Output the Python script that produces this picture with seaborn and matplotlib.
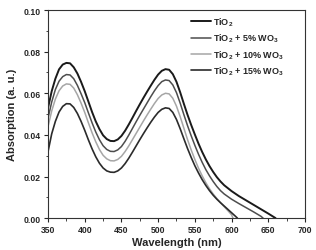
import pandas as pd
import seaborn as sns
import matplotlib.pyplot as plt
from matplotlib.ticker import MultipleLocator

# values (wavelength in nm, absorption in a.u.)
wl_tio2 = [350, 355, 360, 365, 370, 375, 380, 385, 390, 395, 400, 405, 410, 415, 420, 425,
           430, 435, 440, 445, 450, 455, 460, 465, 470, 475, 480, 485, 490, 495, 500, 505,
           510, 515, 520, 525, 530, 535, 540, 545, 550, 555, 560, 565, 570, 575, 580, 585,
           590, 600, 610, 620, 630, 640, 650, 660]
abs_tio2 = [0.053, 0.061, 0.067, 0.0715, 0.0738, 0.0746, 0.0744, 0.0725, 0.0695, 0.0655, 0.061,
            0.056, 0.051, 0.0465, 0.0428, 0.0398, 0.038, 0.0371, 0.037, 0.0378, 0.0395, 0.042,
            0.045, 0.0482, 0.0515, 0.0547, 0.0578, 0.0608, 0.0637, 0.0665, 0.069, 0.0708, 0.0716,
            0.0713, 0.0692, 0.0655, 0.0605, 0.055, 0.0497, 0.0448, 0.0402, 0.0358, 0.0318, 0.0282,
            0.025, 0.0222, 0.0197, 0.0176, 0.0158, 0.013, 0.0106, 0.0085, 0.0064, 0.0043, 0.0022, 0.0]

wl_5 = [350, 355, 360, 365, 370, 375, 380, 385, 390, 395, 400, 405, 410, 415, 420, 425,
        430, 435, 440, 445, 450, 455, 460, 465, 470, 475, 480, 485, 490, 495, 500, 505,
        510, 515, 520, 525, 530, 535, 540, 545, 550, 555, 560, 565, 570, 575, 580, 585,
        590, 600, 610, 620, 630, 640, 643]
abs_5 = [0.048, 0.0558, 0.0618, 0.0658, 0.068, 0.069, 0.0688, 0.067, 0.0638, 0.0598, 0.0555,
         0.0506, 0.0458, 0.0414, 0.0377, 0.0348, 0.033, 0.0321, 0.032, 0.0328, 0.0344, 0.0369,
         0.0399, 0.0431, 0.0463, 0.0494, 0.0524, 0.0554, 0.0584, 0.0612, 0.0637, 0.0656, 0.0664,
         0.0661, 0.064, 0.0603, 0.0553, 0.0498, 0.0445, 0.0396, 0.035, 0.0307, 0.0268, 0.0233,
         0.0203, 0.0176, 0.0152, 0.0132, 0.0116, 0.0091, 0.007, 0.005, 0.003, 0.0009, 0.0]

wl_10 = [350, 355, 360, 365, 370, 375, 380, 385, 390, 395, 400, 405, 410, 415, 420, 425,
         430, 435, 440, 445, 450, 455, 460, 465, 470, 475, 480, 485, 490, 495, 500, 505,
         510, 515, 520, 525, 530, 535, 540, 545, 550, 555, 560, 565, 570, 575, 580, 585,
         590, 595, 600, 602]
abs_10 = [0.044, 0.0515, 0.0572, 0.0612, 0.0635, 0.0645, 0.0643, 0.0625, 0.0593, 0.0553, 0.0508,
          0.0458, 0.041, 0.0367, 0.033, 0.0302, 0.0285, 0.0276, 0.0275, 0.0282, 0.0297, 0.032,
          0.0347, 0.0377, 0.0407, 0.0437, 0.0467, 0.0496, 0.0524, 0.0551, 0.0575, 0.0592, 0.06,
          0.0597, 0.0576, 0.0538, 0.0488, 0.0433, 0.0378, 0.0328, 0.0282, 0.024, 0.0203, 0.017,
          0.0141, 0.0116, 0.0094, 0.0074, 0.0055, 0.0036, 0.0016, 0.0]

wl_15 = [350, 355, 360, 365, 370, 375, 380, 385, 390, 395, 400, 405, 410, 415, 420, 425,
         430, 435, 440, 445, 450, 455, 460, 465, 470, 475, 480, 485, 490, 495, 500, 505,
         510, 515, 520, 525, 530, 535, 540, 545, 550, 555, 560, 565, 570, 575, 580, 585,
         590, 595, 600, 605, 608]
abs_15 = [0.032, 0.0405, 0.0465, 0.051, 0.0537, 0.055, 0.0549, 0.0532, 0.0503, 0.0465, 0.0422,
          0.0376, 0.0333, 0.0295, 0.0264, 0.0241, 0.0227, 0.0221, 0.022, 0.0227, 0.0241, 0.0262,
          0.0288, 0.0317, 0.0347, 0.0377, 0.0406, 0.0434, 0.0461, 0.0486, 0.0508, 0.0523, 0.053,
          0.0527, 0.0508, 0.0474, 0.043, 0.0382, 0.0335, 0.0292, 0.0252, 0.0217, 0.0185, 0.0157,
          0.0132, 0.011, 0.0091, 0.0074, 0.0058, 0.0042, 0.0026, 0.001, 0.0]

labels = ['TiO$_2$', 'TiO$_2$ + 5% WO$_3$', 'TiO$_2$ + 10% WO$_3$', 'TiO$_2$ + 15% WO$_3$']
colors = ['#1a1a1a', '#4d4d4d', '#a6a6a6', '#2b2b2b']
widths = [1.4, 1.1, 1.1, 1.2]

frames = []
for lab, wl, ab in zip(labels, [wl_tio2, wl_5, wl_10, wl_15], [abs_tio2, abs_5, abs_10, abs_15]):
    frames.append(pd.DataFrame({'Wavelength': wl, 'Absorption': ab, 'Sample': lab}))
df = pd.concat(frames, ignore_index=True)

sns.set_style("ticks")
plt.rcParams['font.family'] = ['Liberation Sans', 'DejaVu Sans']
plt.rcParams['mathtext.fontset'] = 'custom'
plt.rcParams['mathtext.rm'] = 'Liberation Sans:bold'
plt.rcParams['mathtext.it'] = 'Liberation Sans:bold'
plt.rcParams['mathtext.bf'] = 'Liberation Sans:bold'

fig = plt.figure(figsize=(3.16, 2.51), dpi=100)
ax = fig.add_axes([0.152, 0.127, 0.813, 0.829])

for lab, c, lw in zip(labels, colors, widths):
    sub = df[df['Sample'] == lab]
    sns.lineplot(data=sub, x='Wavelength', y='Absorption', color=c, linewidth=lw,
                 label=lab, ax=ax, sort=False)

ax.set_xlim(350, 700)
ax.set_ylim(0, 0.10)
ax.xaxis.set_major_locator(MultipleLocator(50))
ax.xaxis.set_minor_locator(MultipleLocator(25))
ax.yaxis.set_major_locator(MultipleLocator(0.02))
ax.yaxis.set_minor_locator(MultipleLocator(0.01))
ax.yaxis.set_major_formatter(plt.FormatStrFormatter('%.2f'))
ax.tick_params(which='major', direction='out', length=3, width=0.8, labelsize=6.2, pad=2)
ax.tick_params(which='minor', direction='out', length=1.8, width=0.6)
for lbl in ax.get_xticklabels() + ax.get_yticklabels():
    lbl.set_fontweight('bold')
for sp in ax.spines.values():
    sp.set_linewidth(0.8)
    sp.set_color('#333333')

ax.set_xlabel('Wavelength (nm)', fontsize=8, fontweight='bold', labelpad=2)
ax.set_ylabel('Absorption (a. u.)', fontsize=8, fontweight='bold', labelpad=5)

leg = ax.legend(loc='upper left', bbox_to_anchor=(0.535, 1.0), frameon=False, borderaxespad=0.2,
                fontsize=6.5, handlelength=2.2, handletextpad=0.3, labelspacing=0.42)
for t in leg.get_texts():
    t.set_fontweight('bold')

fig.savefig('out.png', dpi=100)
